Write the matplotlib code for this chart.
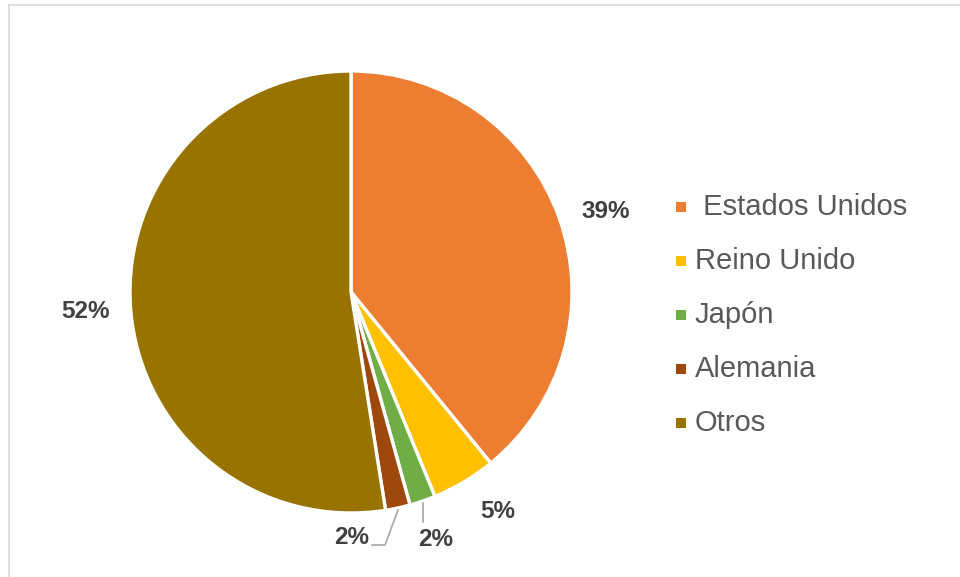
import matplotlib.pyplot as plt
from matplotlib.lines import Line2D
from matplotlib.patches import Rectangle

plt.rcParams['font.family'] = ['Liberation Sans', 'DejaVu Sans']

# data
countries = [' Estados Unidos', 'Reino Unido', 'Japón', 'Alemania', 'Otros']
shares = [39.1, 4.7, 1.9, 1.8, 52.5]
colors = ['#ED7D31', '#FFC000', '#70AD47', '#9E480E', '#997300']

W, H = 960, 577


def py(y):
    # pixel row (from top) to data y
    return H - y


def main():
    fig = plt.figure(figsize=(W / 100, H / 100), dpi=100)
    ax = fig.add_axes([0, 0, 1, 1])

    # chart border (only top and left visible)
    ax.add_line(Line2D([8.5, W], [py(4.5), py(4.5)], color='#d9d9d9', lw=1.2))
    ax.add_line(Line2D([8.5, 8.5], [py(4.5), 0], color='#d9d9d9', lw=1.2))

    ax.pie(shares, colors=colors, startangle=90, counterclock=False,
           center=(351, py(292)), radius=221, frame=True,
           wedgeprops=dict(edgecolor='white', linewidth=2.4))
    ax.set_xlim(0, W)
    ax.set_ylim(0, H)
    ax.set_aspect('equal')
    ax.axis('off')

    # percentage labels
    label_pos = [(606, 211), (498, 511), (436, 539), (352, 537), (86, 312)]
    for v, (x, y) in zip(shares, label_pos):
        ax.text(x, py(y), f'{round(v):d}%', ha='center', va='center',
                fontsize=17.5, fontweight='bold', color='#404040')

    # leader lines for the small slices
    ax.add_line(Line2D([423, 423], [py(503), py(522)], color='#a6a6a6', lw=1.2))
    ax.add_line(Line2D([398, 385, 372], [py(510), py(545), py(545)],
                       color='#a6a6a6', lw=1.2))

    # legend
    for i, (name, c) in enumerate(zip(countries, colors)):
        yc = 207 + 54 * i
        ax.add_patch(Rectangle((676, py(yc) - 5), 10, 10, color=c, lw=0))
        ax.text(695, py(yc), name, ha='left', va='center',
                fontsize=21, color='#595959')

    fig.savefig('out.png', dpi=100)


if __name__ == '__main__':
    main()
